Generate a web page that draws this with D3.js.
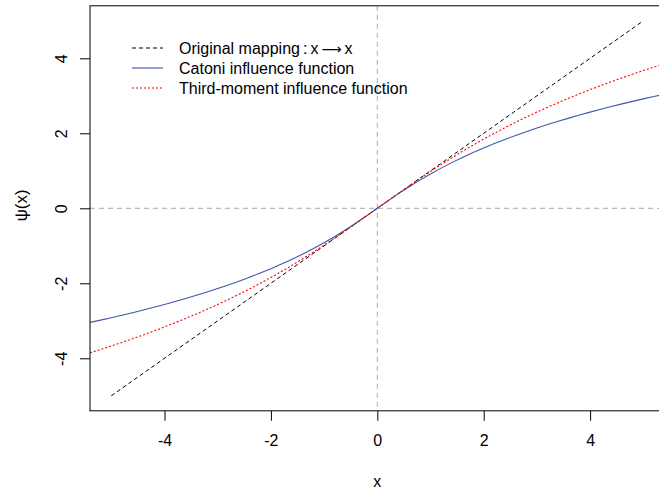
<!DOCTYPE html>
<html>
<head>
<meta charset="utf-8">
<script src="https://cdn.jsdelivr.net/npm/d3@7"></script>
<style>
  html, body { margin: 0; padding: 0; background: #fff; }
  svg { display: block; font-family: "Liberation Sans", Arial, sans-serif; }
</style>
</head>
<body>
<svg id="chart" width="659" height="493"></svg>
<script>
// ---- data ----
const xs = [-5.4,-5.2,-5.0,-4.8,-4.6,-4.4,-4.2,-4.0,-3.8,-3.6,-3.4,-3.2,-3.0,-2.8,-2.6,-2.4,-2.2,-2.0,-1.8,-1.6,-1.4,-1.2,-1.0,-0.8,-0.6,-0.4,-0.2,
  0,0.2,0.4,0.6,0.8,1.0,1.2,1.4,1.6,1.8,2.0,2.2,2.4,2.6,2.8,3.0,3.2,3.4,3.6,3.8,4.0,4.2,4.4,4.6,4.8,5.0,5.2,5.4];
const catoni = [-3.0436,-2.9817,-2.9178,-2.8519,-2.7838,-2.7133,-2.6405,-2.5649,-2.4866,-2.4051,-2.3204,-2.2322,-2.1401,-2.0438,-1.9430,-1.8374,-1.7263,-1.6094,-1.4861,-1.3558,-1.2179,-1.0716,-0.9163,-0.7514,-0.5766,-0.3920,-0.1989,
  0,0.1989,0.3920,0.5766,0.7514,0.9163,1.0716,1.2179,1.3558,1.4861,1.6094,1.7263,1.8374,1.9430,2.0438,2.1401,2.2322,2.3204,2.4051,2.4866,2.5649,2.6405,2.7133,2.7838,2.8519,2.9178,2.9817,3.0436];
const thirdMoment = [-3.8549,-3.7648,-3.6721,-3.5766,-3.4782,-3.3768,-3.2721,-3.1640,-3.0524,-2.9368,-2.8173,-2.6934,-2.5649,-2.4318,-2.2935,-2.1499,-2.0008,-1.8458,-1.6849,-1.5179,-1.3448,-1.1657,-0.9808,-0.7909,-0.5966,-0.3993,-0.2000,
  0,0.2000,0.3993,0.5966,0.7909,0.9808,1.1657,1.3448,1.5179,1.6849,1.8458,2.0008,2.1499,2.2935,2.4318,2.5649,2.6934,2.8173,2.9368,3.0524,3.1640,3.2721,3.3768,3.4782,3.5766,3.6721,3.7648,3.8549];
const identityX = [-5, 5];
const identityY = [-5, 5];
const xTicks = [-4, -2, 0, 2, 4];
const yTicks = [-4, -2, 0, 2, 4];
const legendLabels = ["Original mapping", "Catoni influence function", "Third-moment influence function"];

// ---- layout ----
const svg = d3.select("#chart");
const L = 90, R = 664.6, T = 5.8, B = 410.8;
const x = d3.scaleLinear().domain([-5.4, 5.4]).range([L, R]);
const y = d3.scaleLinear().domain([-5.4, 5.4]).range([B, T]);

svg.append("rect").attr("width", 659).attr("height", 493).attr("fill", "#fff");

svg.append("defs").append("clipPath").attr("id", "clip")
  .append("rect").attr("x", L).attr("y", T).attr("width", R - L).attr("height", B - T);

const plot = svg.append("g").attr("clip-path", "url(#clip)");

// reference zero lines
plot.append("line").attr("x1", x(0)).attr("x2", x(0)).attr("y1", T).attr("y2", B)
  .attr("stroke", "#aaaaaa").attr("stroke-width", 1).attr("stroke-dasharray", "5,4");
plot.append("line").attr("x1", L).attr("x2", R).attr("y1", y(0)).attr("y2", y(0))
  .attr("stroke", "#aaaaaa").attr("stroke-width", 1).attr("stroke-dasharray", "5,4");

const line = d3.line().x(d => x(d[0])).y(d => y(d[1]));

plot.append("path").datum(identityX.map((v, i) => [v, identityY[i]]))
  .attr("d", line).attr("fill", "none").attr("stroke", "#000")
  .attr("stroke-width", 1).attr("stroke-dasharray", "4,3");

plot.append("path").datum(xs.map((v, i) => [v, catoni[i]]))
  .attr("d", line).attr("fill", "none").attr("stroke", "#3f56b0")
  .attr("stroke-width", 1.1);

plot.append("path").datum(xs.map((v, i) => [v, thirdMoment[i]]))
  .attr("d", line).attr("fill", "none").attr("stroke", "#ff0000")
  .attr("stroke-width", 1.1).attr("stroke-dasharray", "2,2");

// box
svg.append("rect").attr("x", L).attr("y", T).attr("width", R - L).attr("height", B - T)
  .attr("fill", "none").attr("stroke", "#000").attr("stroke-width", 1);

// x axis
const xa = svg.append("g").attr("transform", `translate(0,${B})`)
  .call(d3.axisBottom(x).tickValues(xTicks).tickSize(10).tickSizeOuter(0).tickPadding(14)
    .tickFormat(d => d < 0 ? "-" + Math.abs(d) : d));
xa.select(".domain").remove();
xa.selectAll("text").attr("font-size", 16).attr("fill", "#000")
  .attr("font-family", "Liberation Sans, Arial, sans-serif");

// y axis
const ya = svg.append("g").attr("transform", `translate(${L},0)`)
  .call(d3.axisLeft(y).tickValues(yTicks).tickSize(10).tickSizeOuter(0)
    .tickFormat(d => d < 0 ? "-" + Math.abs(d) : d));
ya.select(".domain").remove();
ya.selectAll("text").attr("font-size", 16).attr("fill", "#000")
  .attr("font-family", "Liberation Sans, Arial, sans-serif")
  .attr("x", null).attr("dy", null).attr("text-anchor", "middle")
  .attr("transform", "translate(-23,0) rotate(-90)");

// axis titles
svg.append("text").attr("x", x(0)).attr("y", 487).attr("text-anchor", "middle")
  .attr("font-size", 16).text("x");
svg.append("text").attr("transform", `translate(27,${y(0) - 3}) rotate(-90)`)
  .attr("text-anchor", "middle").attr("font-size", 17).text("ψ(x)");

// legend
const lgX1 = 132, lgX2 = 163, lgTX = 179, lgY = [48, 68, 88];
const lg = svg.append("g");
lg.append("line").attr("x1", lgX1).attr("x2", lgX2).attr("y1", lgY[0]).attr("y2", lgY[0])
  .attr("stroke", "#000").attr("stroke-dasharray", "4,3");
lg.append("line").attr("x1", lgX1).attr("x2", lgX2).attr("y1", lgY[1]).attr("y2", lgY[1])
  .attr("stroke", "#3f56b0").attr("stroke-width", 1.1);
lg.append("line").attr("x1", lgX1).attr("x2", lgX2).attr("y1", lgY[2]).attr("y2", lgY[2])
  .attr("stroke", "#ff0000").attr("stroke-dasharray", "2,2").attr("stroke-width", 1.1);

const t0 = lg.append("text").attr("x", lgTX).attr("y", lgY[0]).attr("dy", "0.35em").attr("font-size", 16);
t0.append("tspan").text(legendLabels[0]);
t0.append("tspan").attr("dx", 3).text(":");
t0.append("tspan").attr("dx", 3).text("x");
t0.append("tspan").attr("dx", 3).attr("font-family", "DejaVu Sans").attr("font-size", 14).text("⟶");
t0.append("tspan").attr("dx", 3).text("x");
lg.append("text").attr("x", lgTX).attr("y", lgY[1]).attr("dy", "0.35em").attr("font-size", 16).text(legendLabels[1]);
lg.append("text").attr("x", lgTX).attr("y", lgY[2]).attr("dy", "0.35em").attr("font-size", 16).text(legendLabels[2]);
</script>
</body>
</html>
